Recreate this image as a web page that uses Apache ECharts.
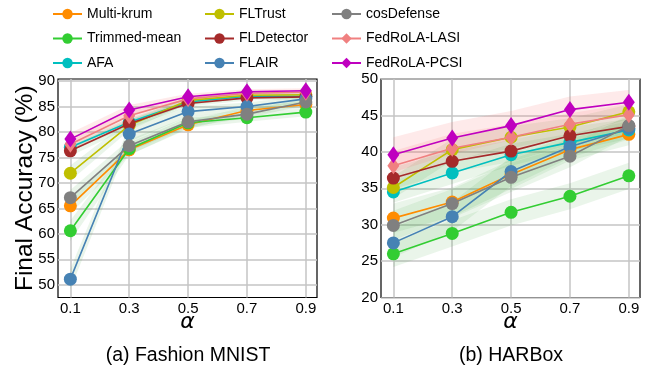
<!DOCTYPE html>
<html>
<head>
<meta charset="utf-8">
<script src="https://cdn.jsdelivr.net/npm/echarts@6/dist/echarts.min.js"></script>
<style>html,body{margin:0;padding:0;background:#fff}#c{width:667px;height:374px}</style>
</head>
<body>
<div id="c"></div>
<script>
// ---- data ----
const alphas = [0.1, 0.3, 0.5, 0.7, 0.9];
const methods = ['Multi-krum','Trimmed-mean','AFA','FLTrust','FLDetector','FLAIR','cosDefense','FedRoLA-LASI','FedRoLA-PCSI'];
const xTicks = [0.1, 0.3, 0.5, 0.7, 0.9];
const fmTicks = [50, 55, 60, 65, 70, 75, 80, 85, 90];
const harTicks = [20, 25, 30, 35, 40, 45, 50];

// (a) Fashion MNIST – mean accuracy
const fmMultiKrum   = [65.5, 76.5, 81.4, 84.2, 85.4];
const fmTrimmedMean = [60.6, 76.7, 81.8, 82.8, 83.9];
const fmAFA         = [77.0, 81.9, 85.9, 87.0, 87.0];
const fmFLTrust     = [71.9, 81.3, 86.2, 87.2, 87.3];
const fmFLDetector  = [76.3, 81.6, 85.6, 86.7, 86.9];
const fmFLAIR       = [51.1, 79.6, 84.0, 85.0, 86.5];
const fmCosDefense  = [67.1, 77.3, 82.0, 83.5, 85.9];
const fmLASI        = [77.6, 83.2, 86.5, 87.6, 87.8];
const fmPCSI        = [78.6, 84.3, 86.9, 87.9, 88.1];
// (a) Fashion MNIST – spread
const fmMultiKrumSd   = [1.5, 1.0, 0.8, 0.8, 0.6];
const fmTrimmedMeanSd = [2.0, 1.2, 1.0, 0.8, 0.8];
const fmAFASd         = [0.8, 0.8, 0.6, 0.5, 0.5];
const fmFLTrustSd     = [1.5, 1.0, 0.6, 0.5, 0.5];
const fmFLDetectorSd  = [1.0, 0.8, 0.6, 0.5, 0.5];
const fmFLAIRSd       = [2.0, 1.5, 1.0, 0.8, 0.6];
const fmCosDefenseSd  = [1.5, 1.2, 1.0, 0.8, 0.6];
const fmLASISd        = [1.2, 1.0, 0.6, 0.5, 0.5];
const fmPCSISd        = [1.2, 1.0, 0.6, 0.5, 0.5];

// (b) HARBox – mean accuracy
const harMultiKrum   = [30.9, 33.1, 36.9, 40.3, 42.4];
const harTrimmedMean = [26.0, 28.8, 31.7, 33.9, 36.7];
const harAFA         = [34.5, 37.1, 39.6, 41.3, 43.0];
const harFLTrust     = [35.1, 40.3, 42.0, 43.4, 45.5];
const harFLDetector  = [36.4, 38.7, 40.1, 42.2, 43.5];
const harFLAIR       = [27.5, 31.1, 37.3, 40.7, 43.2];
const harCosDefense  = [29.9, 32.9, 36.5, 39.4, 43.6];
const harLASI        = [38.1, 40.5, 42.0, 43.8, 45.1];
const harPCSI        = [39.6, 41.9, 43.6, 45.8, 46.8];
// (b) HARBox – spread
const harMultiKrumSd   = [2.0, 2.0, 2.0, 1.5, 1.5];
const harTrimmedMeanSd = [1.8, 1.8, 1.8, 1.8, 1.8];
const harAFASd         = [1.5, 1.5, 1.5, 1.2, 1.2];
const harFLTrustSd     = [1.5, 1.5, 1.5, 1.2, 1.0];
const harFLDetectorSd  = [1.5, 1.5, 1.5, 1.2, 1.0];
const harFLAIRSd       = [2.0, 2.0, 2.0, 1.5, 1.5];
const harCosDefenseSd  = [2.0, 2.0, 2.0, 1.5, 1.5];
const harLASISd        = [2.0, 2.0, 1.8, 1.5, 1.5];
const harPCSISd        = [2.4, 2.2, 2.0, 1.8, 1.7];

// ---- axis ranges (layout) ----
const X_MIN = 0.058, X_MAX = 0.938;
const FM_MIN = 47.5, FM_MAX = 90.4;
const HAR_MIN = 20, HAR_MAX = 50;

// ---- styling ----
const colors = ['#ff8c00','#32cd32','#00bfbf','#bfbf00','#a52a2a','#4682b4','#808080','#f08080','#bf00bf'];
const bandColors = ['g','g','g','g','g','g','g','r','r'];
const FONT = 'Liberation Sans, Arial, sans-serif';
const GRID_LINE = { show: true, lineStyle: { color: '#c4c4c4', width: 1.5, type: 'solid' } };

const fmMeans = [fmMultiKrum, fmTrimmedMean, fmAFA, fmFLTrust, fmFLDetector, fmFLAIR, fmCosDefense, fmLASI, fmPCSI];
const fmSds = [fmMultiKrumSd, fmTrimmedMeanSd, fmAFASd, fmFLTrustSd, fmFLDetectorSd, fmFLAIRSd, fmCosDefenseSd, fmLASISd, fmPCSISd];
const harMeans = [harMultiKrum, harTrimmedMean, harAFA, harFLTrust, harFLDetector, harFLAIR, harCosDefense, harLASI, harPCSI];
const harSds = [harMultiKrumSd, harTrimmedMeanSd, harAFASd, harFLTrustSd, harFLDetectorSd, harFLAIRSd, harCosDefenseSd, harLASISd, harPCSISd];

function bandSeries(axisIdx, mean, sd, kind) {
  const upper = mean.map((v, i) => v + sd[i]);
  const lower = mean.map((v, i) => v - sd[i]);
  return {
    type: 'custom', xAxisIndex: axisIdx, yAxisIndex: axisIdx, silent: true, z: 1,
    data: [[alphas[0], mean[0]]],
    renderItem: function (params, api) {
      const pts = [];
      for (let i = 0; i < alphas.length; i++) pts.push(api.coord([alphas[i], upper[i]]));
      for (let i = alphas.length - 1; i >= 0; i--) pts.push(api.coord([alphas[i], lower[i]]));
      return {
        type: 'polygon', shape: { points: pts },
        style: { fill: kind === 'r' ? 'rgba(245,90,90,0.13)' : 'rgba(60,160,60,0.11)', stroke: null }
      };
    }
  };
}

function lineSeries(axisIdx, k, mean) {
  const isDiamond = k >= 7;
  return {
    type: 'line', name: methods[k], xAxisIndex: axisIdx, yAxisIndex: axisIdx, z: 3 + k * 0.01,
    data: alphas.map((a, i) => [a, mean[i]]),
    symbol: isDiamond ? 'diamond' : 'circle',
    symbolSize: isDiamond ? [12, 17] : 13,
    itemStyle: { color: colors[k], borderWidth: 0 },
    lineStyle: { color: colors[k], width: 1.6 },
    emphasis: { disabled: true }
  };
}

const series = [];
for (let k = 0; k < 9; k++) series.push(bandSeries(0, fmMeans[k], fmSds[k], bandColors[k]));
for (let k = 0; k < 9; k++) series.push(bandSeries(1, harMeans[k], harSds[k], bandColors[k]));
for (let k = 0; k < 9; k++) series.push(lineSeries(0, k, fmMeans[k]));
for (let k = 0; k < 9; k++) series.push(lineSeries(1, k, harMeans[k]));

function xAxisDef(gi) {
  return {
    type: 'value', gridIndex: gi, min: X_MIN, max: X_MAX,
    axisLine: { show: false },
    axisTick: { show: false, customValues: xTicks },
    splitLine: GRID_LINE,
    axisLabel: { customValues: xTicks, formatter: v => v.toFixed(1), color: '#000', fontSize: 15, fontFamily: FONT, margin: 4 },
    name: 'α', nameLocation: 'middle', nameGap: 14, nameMoveOverlap: false,
    nameTextStyle: { fontSize: 22, fontStyle: 'italic', color: '#000', fontFamily: 'DejaVu Sans, sans-serif' }
  };
}
function legendDef(left, names) {
  return {
    orient: 'vertical', left: left, top: 2, data: names,
    itemWidth: 29, itemHeight: 13, itemGap: 10.5,
    textStyle: { fontSize: 14, fontFamily: FONT, color: '#000' },
    selectedMode: false
  };
}

const option = {
  animation: false,
  grid: [
    { left: 58, top: 79, width: 259, height: 218.5, show: true, borderColor: '#000', borderWidth: 1.2, backgroundColor: 'rgba(0,0,0,0)' },
    { left: 381, top: 79, width: 259, height: 218.5, show: true, borderColor: '#000', borderWidth: 1.2, backgroundColor: 'rgba(0,0,0,0)' }
  ],
  legend: [
    legendDef(47, methods.slice(0, 3)),
    legendDef(199, methods.slice(3, 6)),
    legendDef(326, methods.slice(6, 9))
  ],
  xAxis: [xAxisDef(0), xAxisDef(1)],
  yAxis: [
    {
      type: 'value', gridIndex: 0, min: FM_MIN, max: FM_MAX,
      axisLine: { show: false },
      axisTick: { show: false, customValues: fmTicks },
      splitLine: GRID_LINE,
      axisLabel: { customValues: fmTicks, color: '#000', fontSize: 15, fontFamily: FONT, margin: 3 },
      name: 'Final Accuracy (%)', nameLocation: 'middle', nameGap: 20, nameMoveOverlap: false,
      nameTextStyle: { fontSize: 24.5, color: '#000', fontFamily: FONT }
    },
    {
      type: 'value', gridIndex: 1, min: HAR_MIN, max: HAR_MAX,
      axisLine: { show: false },
      axisTick: { show: false, customValues: harTicks },
      splitLine: GRID_LINE,
      axisLabel: { customValues: harTicks, color: '#000', fontSize: 15, fontFamily: FONT, margin: 3 }
    }
  ],
  graphic: [
    { type: 'text', x: 188, y: 356, style: { text: '(a) Fashion MNIST', fontSize: 19.5, fontFamily: FONT, fill: '#000', textAlign: 'center', textVerticalAlign: 'middle' } },
    { type: 'text', x: 511, y: 356, style: { text: '(b) HARBox', fontSize: 19.5, fontFamily: FONT, fill: '#000', textAlign: 'center', textVerticalAlign: 'middle' } }
  ],
  series: series
};

const chart = echarts.init(document.getElementById('c'), null, { renderer: 'canvas' });
chart.setOption(option);
</script>
</body>
</html>
